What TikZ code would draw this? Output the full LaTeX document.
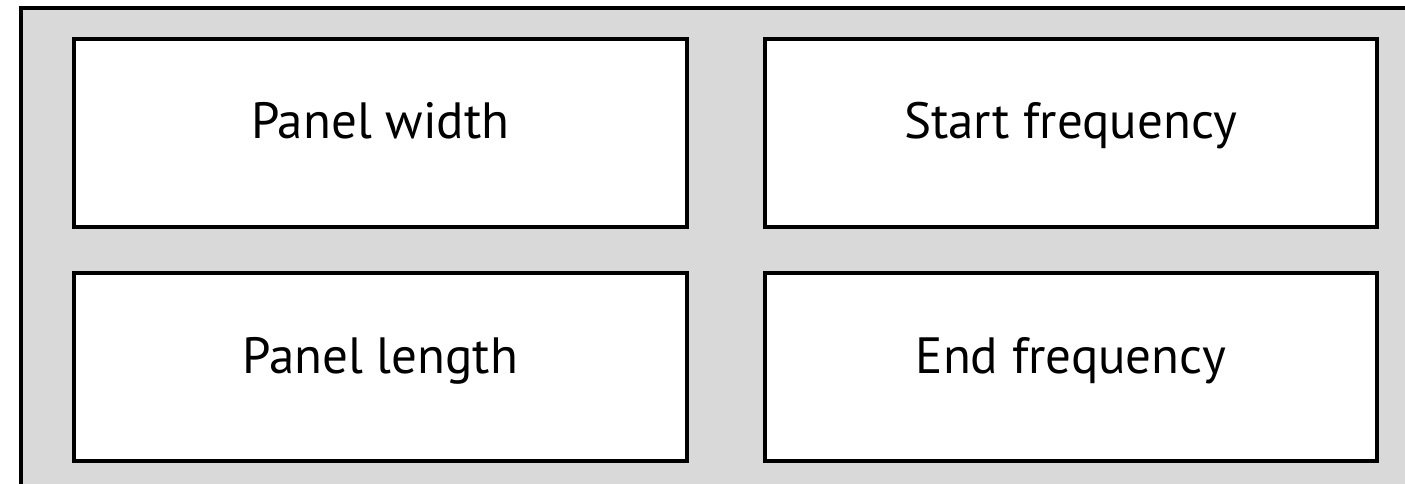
\documentclass[tikz,border=0pt]{standalone}
\usepackage{fontspec}
\setmainfont{PT Sans}
\definecolor{panelgray}{HTML}{D9D9D9}
\begin{document}
\begin{tikzpicture}[x=1pt,y=-1pt,
  fieldbox/.style={draw=black,line width=4pt,fill=white,minimum width=612.5pt,minimum height=188pt,inner sep=0pt,anchor=north west},
  lbl/.style={anchor=base,inner sep=0pt,font=\fontsize{51}{60}\selectfont}]
\useasboundingbox (0,0) rectangle (1405,484);
\clip (0,0) rectangle (1405,484);
\fill[panelgray] (21,8) rectangle (1420,500);
\draw[line width=4pt] (21,520) -- (21,8) -- (1420,8);
\node[fieldbox] (pw) at (72,37) {};
\node[fieldbox] (sf) at (762.5,37) {};
\node[fieldbox] (pl) at (72,271) {};
\node[fieldbox] (ef) at (762.5,271) {};
\node[lbl] (pwt) at ([yshift=-6pt]pw.center) {Panel width};
\node[lbl] (sft) at ([yshift=-6pt]sf.center) {Start frequency};
\node[lbl] (plt) at ([yshift=-6pt]pl.center) {Panel length};
\node[lbl] (eft) at ([yshift=-6pt]ef.center) {End frequency};
\end{tikzpicture}
\end{document}
